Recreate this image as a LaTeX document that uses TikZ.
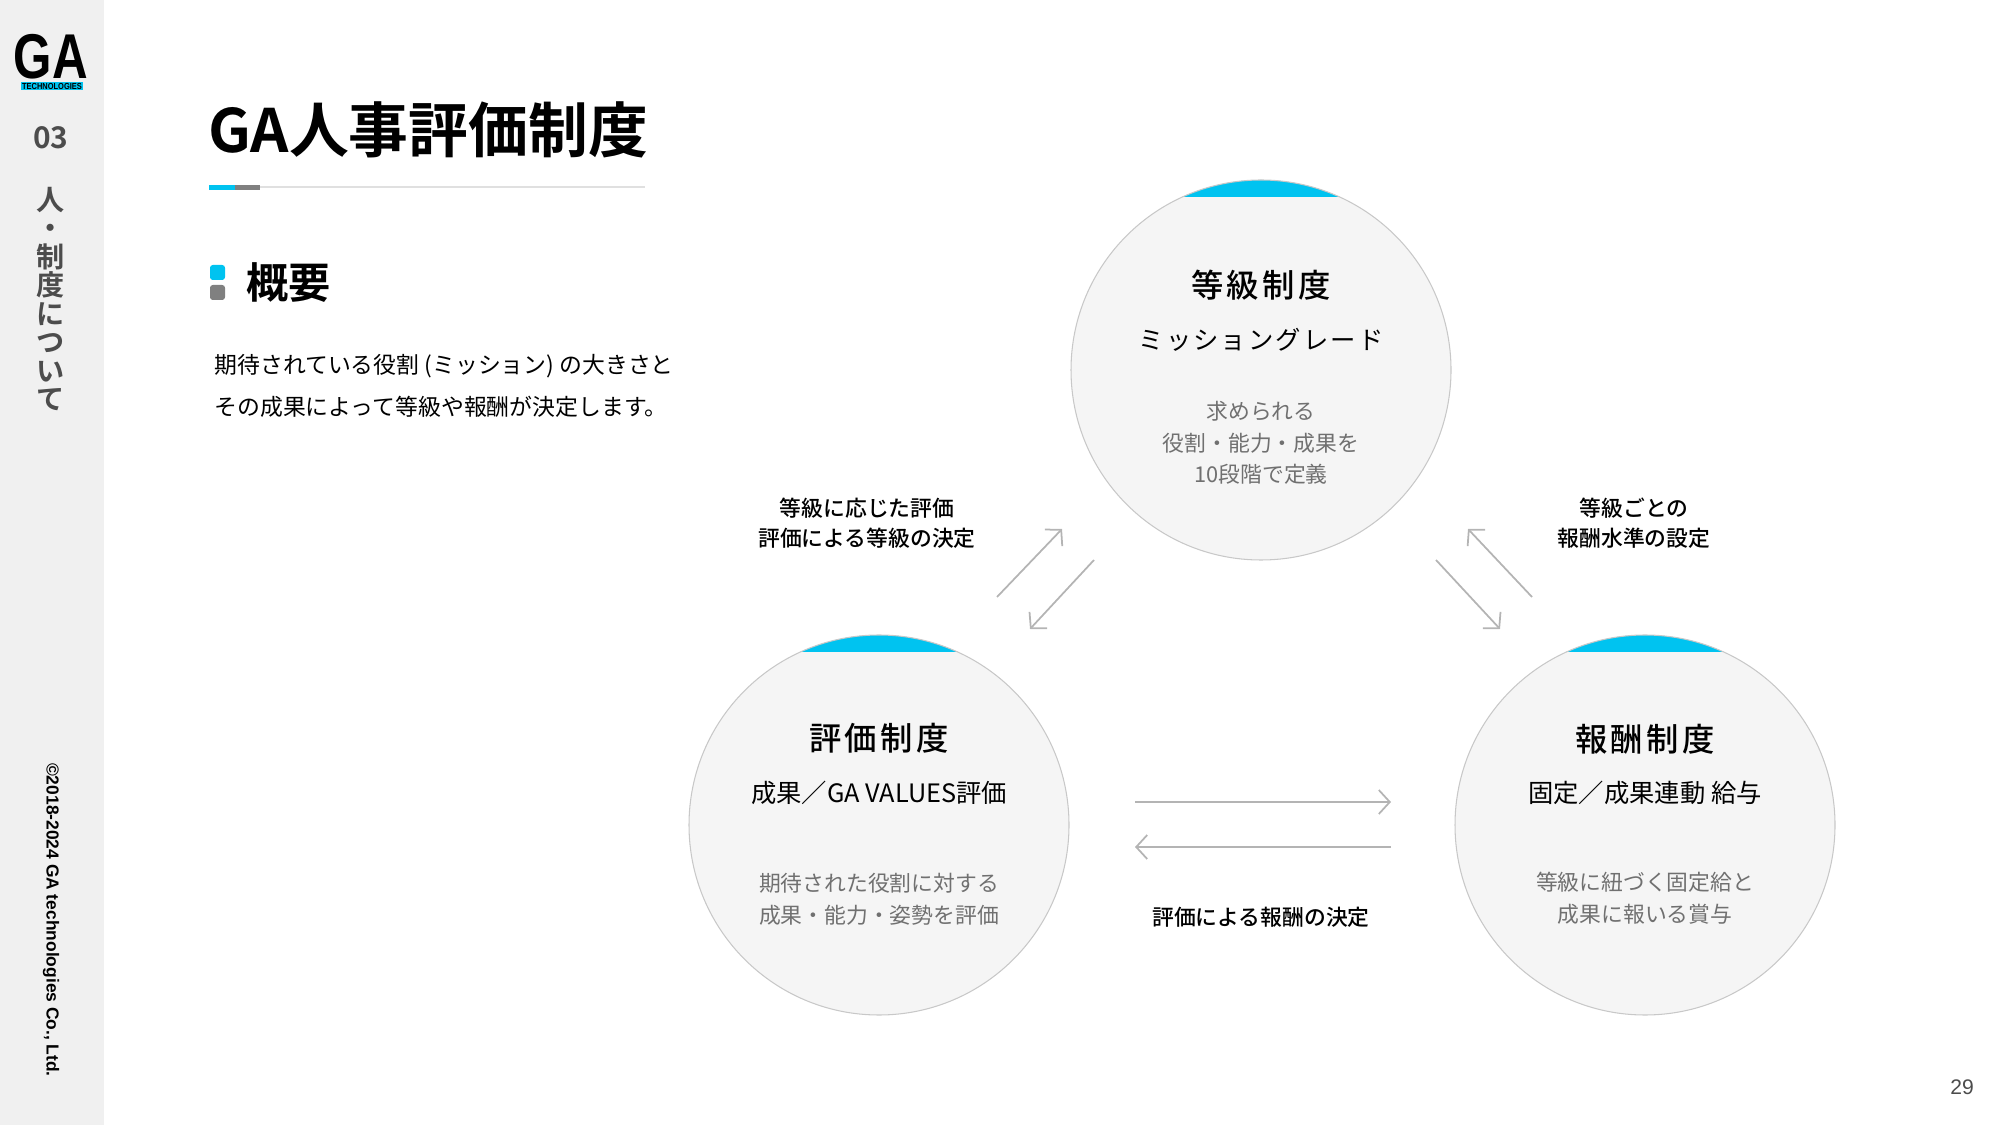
\documentclass[tikz,border=0pt]{standalone}
\usepackage{fontspec}
\setmainfont{Noto Sans CJK JP}[BoldFont={Noto Sans CJK JP Bold}]
\newfontfamily\medfont{Noto Sans CJK JP Medium}
\newfontfamily\latinfont{Liberation Sans}
\usetikzlibrary{arrows.meta}
\definecolor{gacyan}{HTML}{00C3F0}
\definecolor{sidegrey}{HTML}{F0F0F0}
\definecolor{discfill}{HTML}{F5F5F5}
\definecolor{discline}{HTML}{C8C8C8}
\definecolor{arrowgrey}{HTML}{B4B4B4}
\definecolor{descgrey}{HTML}{707070}
\tikzset{
  disctitle/.style={font=\medfont\fontsize{9.2}{11}\selectfont},
  discsub/.style={font=\fontsize{7.2}{9}\selectfont},
  discdesc/.style={font=\fontsize{6.2}{9}\selectfont,text=descgrey,align=center},
  flowlabel/.style={font=\medfont\fontsize{6.2}{8.6}\selectfont,align=center},
  flowarrow/.style={draw=arrowgrey,line width=0.5pt,-{Straight Barb[length=1.1mm,width=2.4mm]}},
}
\newcommand{\gadisc}[3]{%
  \begin{scope}
    \clip (#1,#2) circle (190);
    \fill[discfill] (#1,#2) circle (190);
    \fill[gacyan] (#1-200,#2-200) rectangle (#1+200,#2-173);
  \end{scope}
  \draw[discline,line width=0.3pt] (#1,#2) circle (190);
  \node (#3) at (#1,#2) {};
}
\begin{document}
\begin{tikzpicture}[x=0.01cm,y=-0.01cm]
  \useasboundingbox (0,0) rectangle (2000,1125);
  \fill[sidegrey] (0,0) rectangle (104,1125);

  % sidebar
  \node[font=\latinfont\fontsize{18}{18}\selectfont\bfseries,xscale=0.78,inner sep=0pt,anchor=base] (logo) at (51,79) {GA};
  \fill[gacyan] (21,82) rectangle (83,90);
  \node[font=\latinfont\fontsize{2.5}{3}\selectfont\bfseries,xscale=0.85,inner sep=0pt] (logotext) at (52,86) {TECHNOLOGIES};
  \node[font=\bfseries\fontsize{8.5}{9}\selectfont,text=black!70] (chapter) at (51,138) {03};
  \node[font=\bfseries\fontsize{8}{8.1}\selectfont,text=black!70,align=center] (chaptitle) at (51,299)
    {人\\・\\制\\度\\に\\つ\\い\\て};
  \node[font=\latinfont\fontsize{4.95}{7}\selectfont\bfseries,rotate=-90] (copyright) at (51,920)
    {©2018-2024 GA technologies Co., Ltd.};

  \begin{scope}[shift={(-6,-2)}]
  % heading
  \node[anchor=west,font=\fontsize{17}{18}\selectfont\bfseries] (title) at (202,132) {GA人事評価制度};
  \draw[black!12,line width=0.8pt] (215,189) -- (651,189);
  \fill[gacyan] (215,187) rectangle (241,192);
  \fill[black!50] (241,187) rectangle (266,192);
  \fill[gacyan,rounded corners=0.8pt] (216,267) rectangle (231,282);
  \fill[black!50,rounded corners=0.8pt] (216,287) rectangle (231,302);
  \node[anchor=west,font=\fontsize{12}{14}\selectfont\bfseries] (overview) at (240,285) {概要};
  \node[anchor=west,font=\fontsize{6.5}{12}\selectfont,align=left] (summary) at (208,388)
    {期待されている役割 (ミッション) の大きさと\\その成果によって等級や報酬が決定します。};
  \end{scope}

  \begin{scope}[shift={(-12,-4)}]
  % discs
  \gadisc{1273}{374}{grade}
  \gadisc{891}{829}{review}
  \gadisc{1657}{829}{reward}

  \node[disctitle] (gradetitle) at (1273,289) {等\kern1pt 級\kern1pt 制\kern1pt 度};
  \node[discsub] (gradesub) at (1273,344) {ミ\kern0.6pt ッ\kern0.6pt シ\kern0.6pt ョ\kern0.6pt ン\kern0.6pt グ\kern0.6pt レ\kern0.6pt ー\kern0.6pt ド};
  \node[discdesc] (gradedesc) at (1273,447) {求められる\\役割・能力・成果を\\10段階で定義};

  \node[disctitle] (reviewtitle) at (891,742) {評\kern1pt 価\kern1pt 制\kern1pt 度};
  \node[discsub] (reviewsub) at (891,797) {成果／GA VALUES評価};
  \node[discdesc] (reviewdesc) at (891,903) {期待された役割に対する\\成果・能力・姿勢を評価};

  \node[disctitle] (rewardtitle) at (1657,743) {報\kern1pt 酬\kern1pt 制\kern1pt 度};
  \node[discsub] (rewardsub) at (1657,797) {固定／成果連動 給与};
  \node[discdesc] (rewarddesc) at (1657,902) {等級に紐づく固定給と\\成果に報いる賞与};

  % flows
  \coordinate (a1s) at (1009,601); \coordinate (a1e) at (1074,533);
  \coordinate (a2s) at (1106,564); \coordinate (a2e) at (1042,633);
  \coordinate (b1s) at (1544,601); \coordinate (b1e) at (1480,533);
  \coordinate (b2s) at (1448,564); \coordinate (b2e) at (1512,633);
  \coordinate (c1s) at (1147,806); \coordinate (c1e) at (1403,806);
  \coordinate (c2s) at (1403,851); \coordinate (c2e) at (1147,851);
  \draw[flowarrow] (a1s) -- (a1e);
  \draw[flowarrow] (a2s) -- (a2e);
  \draw[flowarrow] (b1s) -- (b1e);
  \draw[flowarrow] (b2s) -- (b2e);
  \draw[flowarrow] (c1s) -- (c1e);
  \draw[flowarrow] (c2s) -- (c2e);

  \node[flowlabel] (leftlabel) at (879,527) {等級に応じた評価\\評価による等級の決定};
  \node[flowlabel] (rightlabel) at (1646,527) {等級ごとの\\報酬水準の設定};
  \node[flowlabel] (bottomlabel) at (1273,921) {評価による報酬の決定};
  \end{scope}

  \node[font=\latinfont\fontsize{6}{7}\selectfont,text=black!70] (pagenum) at (1962,1087) {29};
\end{tikzpicture}
\end{document}
